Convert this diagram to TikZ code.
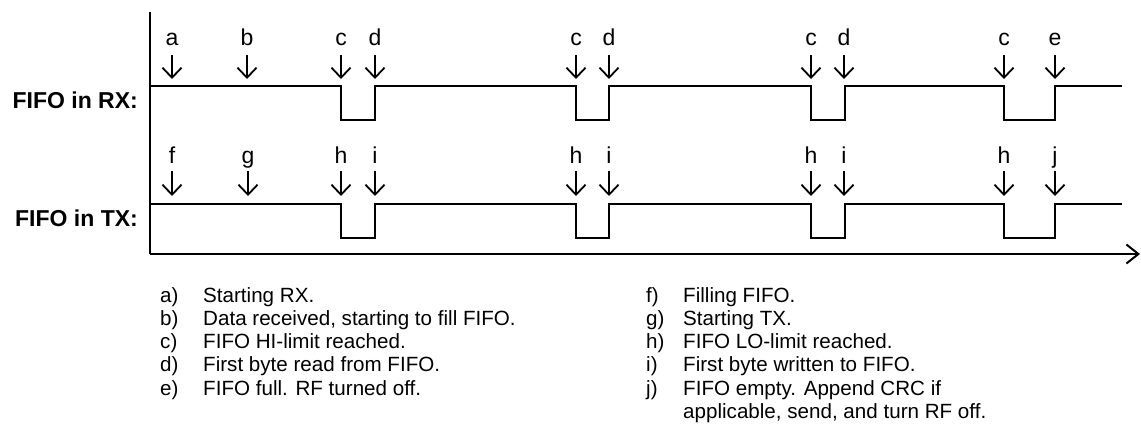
\documentclass[tikz,border=0pt]{standalone}
\usepackage{fontspec}
\setmainfont{Liberation Sans}
\usetikzlibrary{arrows.meta}
\tikzset{
  sig/.style={line width=2pt, line join=miter},
  axisline/.style={line width=2pt},
  evarrow/.style={line width=1.8pt, -{Straight Barb[length=10pt,width=19pt,line width=1.8pt]}},
  evlabel/.style={anchor=base, inner sep=0pt, font=\fontsize{23}{27}\selectfont},
  siglabel/.style={anchor=east, inner sep=0pt, font=\fontsize{23}{27}\selectfont\bfseries},
  legkey/.style={anchor=base west, inner sep=0pt, font=\fontsize{20.6}{23}\selectfont},
  legtext/.style={anchor=base west, inner sep=0pt, font=\fontsize{20.6}{23.3}\selectfont},
}
\begin{document}
\begin{tikzpicture}[x=1pt,y=-1pt]
\useasboundingbox (0,0) rectangle (1141,432);
% axes
\coordinate (ytop) at (150,12);
\coordinate (orig) at (150,254);
\coordinate (xend) at (1140,254);
\draw[axisline] (ytop) -- (orig);
\draw[axisline, -{Straight Barb[length=12pt,width=19pt,line width=2pt]}] (orig) -- (xend);
% signal labels
\node[siglabel] (lrx) at (138,100) {FIFO in RX:};
\node[siglabel] (ltx) at (138,218) {FIFO in TX:};
% signals
\draw[sig] (150,86) -- (341,86) -- (341,120) -- (375,120) -- (375,86) -- (576,86) -- (576,120) -- (609,120) -- (609,86) -- (811,86) -- (811,120) -- (845,120) -- (845,86) -- (1004,86) -- (1004,120) -- (1055,120) -- (1055,86) -- (1122,86);
\draw[sig] (150,204) -- (341,204) -- (341,238) -- (375,238) -- (375,204) -- (576,204) -- (576,238) -- (609,238) -- (609,204) -- (811,204) -- (811,238) -- (845,238) -- (845,204) -- (1004,204) -- (1004,238) -- (1055,238) -- (1055,204) -- (1122,204);
% RX events
\foreach \x/\t [count=\i] in {172/a,247/b,341/c,375/d,576/c,609/d,811/c,844/d,1004/c,1055/e}{
  \node[evlabel] (rl\i) at (\x,45) {\t};
  \coordinate (rs\i) at (\x,55);
  \coordinate (re\i) at (\x,79);
  \draw[evarrow] (rs\i) -- (re\i);
}
% TX events
\foreach \x/\t [count=\i] in {172/f,248/g,341/h,375/i,576/h,609/i,811/h,844/i,1004/h,1055/j}{
  \node[evlabel] (tl\i) at (\x,163) {\t};
  \coordinate (ts\i) at (\x,171);
  \coordinate (te\i) at (\x,196);
  \draw[evarrow] (ts\i) -- (te\i);
}
% legend
\foreach \k/\t [count=\i] in {a)/Starting RX.,b)/{Data received, starting to fill FIFO.},c)/FIFO HI-limit reached.,d)/First byte read from FIFO.,e)/FIFO full. RF turned off.}{
  \node[legkey] (ka\i) at (160,{302+23.3*(\i-1)}) {\k};
  \node[legtext] (ta\i) at (203,{302+23.3*(\i-1)}) {\t};
}
\foreach \k/\t [count=\i] in {f)/Filling FIFO.,g)/Starting TX.,h)/FIFO LO-limit reached.,i)/First byte written to FIFO.,j)/FIFO empty. Append CRC if}{
  \node[legkey] (kb\i) at (646,{302+23.3*(\i-1)}) {\k};
  \node[legtext] (tb\i) at (683,{302+23.3*(\i-1)}) {\t};
}
\node[legtext] (tb6) at (683,{302+23.3*5}) {applicable, send, and turn RF off.};
\end{tikzpicture}
\end{document}
